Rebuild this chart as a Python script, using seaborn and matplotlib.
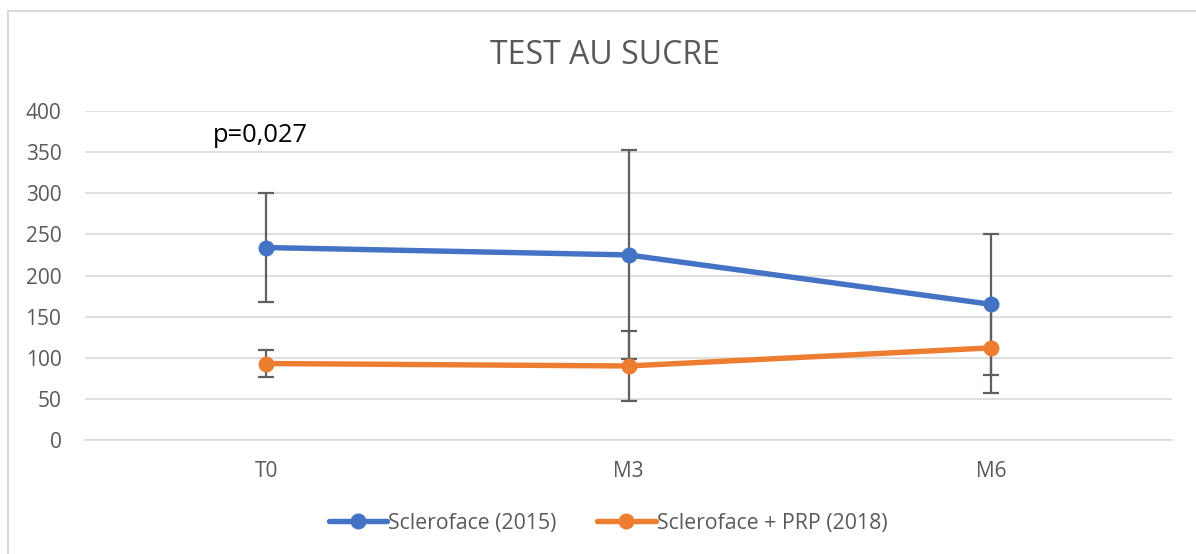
import matplotlib
matplotlib.use("Agg")
import matplotlib.pyplot as plt
import seaborn as sns
import pandas as pd
from matplotlib.patches import Rectangle
from matplotlib.lines import Line2D

categories = ["T0", "M3", "M6"]
series_names = ["Scleroface (2015)", "Scleroface + PRP (2018)"]
blue_values = [234, 225, 165]
blue_err = [66, 127, 86]
orange_values = [93, 90, 112]
orange_err = [16.5, 43, 55]
yticks = [0, 50, 100, 150, 200, 250, 300, 350, 400]
title = "TEST AU SUCRE"
annotation = "p=0,027"

colors = ["#4472C4", "#ED7D31"]

sns.set_theme(style="white")
plt.rcParams['font.family'] = ['Open Sans', 'DejaVu Sans']

df = pd.DataFrame({
    "cat": categories * 2,
    "val": blue_values + orange_values,
    "serie": [series_names[0]] * 3 + [series_names[1]] * 3,
})

fig = plt.figure(figsize=(11.96, 5.54), dpi=100)
ax = fig.add_axes([85 / 1196, 1 - 440 / 554, (1172 - 85) / 1196, (440 - 111) / 554])

# error bars
for vals, errs in [(blue_values, blue_err), (orange_values, orange_err)]:
    ax.errorbar(categories, vals, yerr=errs, fmt="none", ecolor="#5f5f5f",
                elinewidth=1.6, capsize=6, capthick=1.6, zorder=2)

sns.lineplot(data=df, x="cat", y="val", hue="serie", palette=colors,
             marker="o", markersize=11.5, markeredgewidth=0, linewidth=3.9,
             ax=ax, zorder=3, legend=False)

ax.set_xlim(-0.5, 2.5)
ax.set_ylim(0, 400)
ax.set_yticks(yticks)
ax.yaxis.grid(True, color="#D9D9D9", linewidth=1.2)
ax.xaxis.grid(False)
for s in ["top", "right", "left"]:
    ax.spines[s].set_visible(False)
ax.spines["bottom"].set_color("#D9D9D9")
ax.spines["bottom"].set_linewidth(1.2)
ax.tick_params(axis="both", length=0, labelsize=15, labelcolor="#595959")
ax.tick_params(axis="y", pad=17)
ax.tick_params(axis="x", pad=15)
ax.set_xlabel("")
ax.set_ylabel("")

fig.text(605 / 1196, 1 - 56 / 554, title, ha="center", va="center",
         fontsize=23, color="#595959")
ax.text((213 - 85) / 1087, (440 - 142) / 329, annotation, transform=ax.transAxes,
        fontsize=18.4, color="black", va="baseline", ha="left")

handles = [Line2D([0], [0], color=c, linewidth=3.9, marker="o", markersize=11.5,
                  markeredgewidth=0) for c in colors]
fig.legend(handles, series_names, loc="center", bbox_to_anchor=(608 / 1196, 1 - 523 / 554),
           ncol=2, frameon=False, fontsize=15.3, labelcolor="#595959",
           handlelength=2.75, handletextpad=0.05, columnspacing=1.9)

fig.patches.append(Rectangle((7.5 / 1196, -10 / 554), 1200 / 1196, (554 - 11 + 10) / 554,
                             transform=fig.transFigure, fill=False,
                             edgecolor="#D9D9D9", linewidth=1.5))

fig.savefig("out.png", dpi=100)
